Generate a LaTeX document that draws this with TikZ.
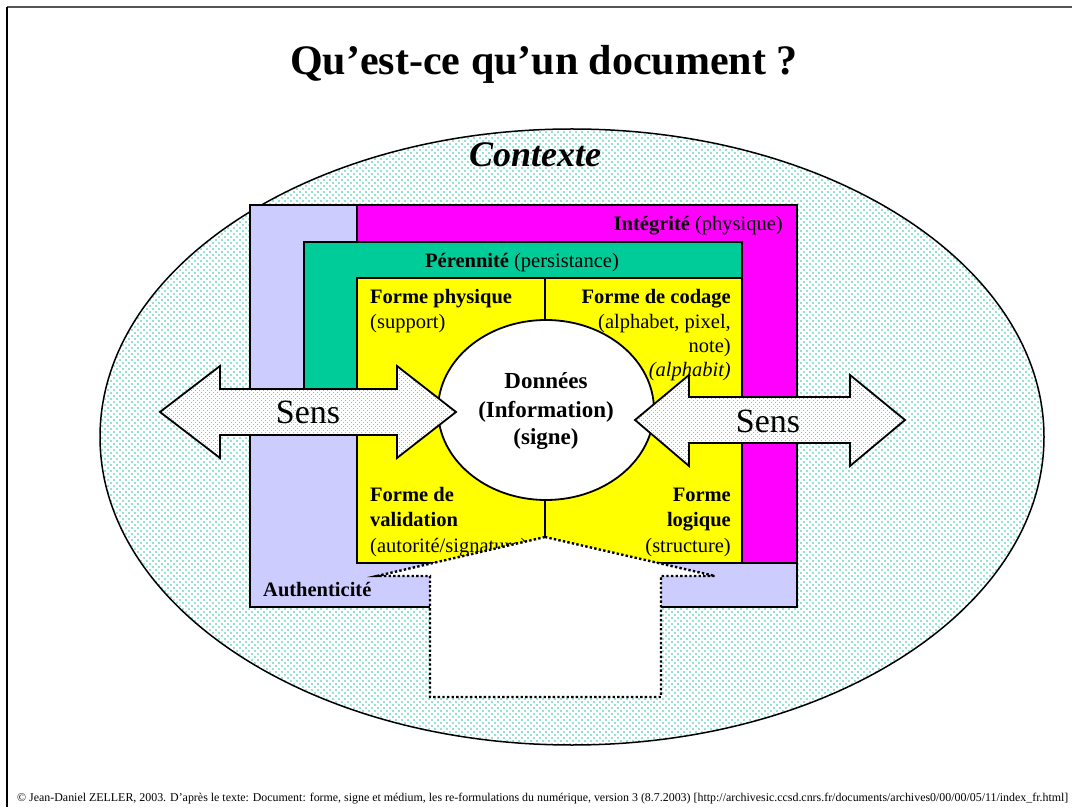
\documentclass[tikz,border=0pt]{standalone}
\usepackage{fontspec}
\setmainfont{Liberation Serif}
\usetikzlibrary{patterns.meta}
\definecolor{lav}{RGB}{204,204,255}
\definecolor{mag}{RGB}{255,0,255}
\definecolor{grn}{RGB}{0,204,153}
\definecolor{yel}{RGB}{255,255,0}
\definecolor{dotcol}{RGB}{40,200,165}
\definecolor{arrdot}{RGB}{20,205,170}
\definecolor{framegray}{RGB}{85,85,85}
\tikzset{
  panel/.style={draw=black, line width=1.8pt},
  lbl/.style={font=\fontsize{20.5}{24}\selectfont, inner sep=0pt},
  core/.style={font=\fontsize{23}{27}\selectfont\bfseries, inner sep=0pt},
  sensarrow/.style={draw=black, line width=1.8pt, preaction={fill=white},
     preaction={pattern={Dots[distance=4pt, radius=0.6pt]}, pattern color=arrdot},
     pattern={Dots[distance=4pt, xshift=2pt, yshift=2pt, radius=0.6pt]}, pattern color=arrdot},
  sens/.style={font=\fontsize{34}{40}\selectfont, inner sep=0pt},
  hollow/.style={draw=black, fill=white, line width=2.4pt, dash pattern=on 2.4pt off 2.2pt},
  ctxdots/.style={preaction={pattern={Dots[distance=6pt, radius=0.9pt]}, pattern color=dotcol},
     pattern={Dots[distance=6pt, xshift=3pt, yshift=3pt, radius=0.9pt]}, pattern color=dotcol},
}
\begin{document}
\begin{tikzpicture}[x=1pt, y=-1pt]
\useasboundingbox (0,0) rectangle (1072,810);
\fill[white] (0,0) rectangle (1072,810);
% frame
\draw[framegray, line width=1.3pt] (1072,7) -- (7,7);
\draw[black, line width=1.3pt] (7,7) -- (7,807);
% title
\node[font=\fontsize{42}{48}\selectfont\bfseries, inner sep=0pt, anchor=base] (title) at (544,75) {Qu’est-ce qu’un document ?};
% context ellipse
\path[ctxdots] (572,437) ellipse [x radius=472pt, y radius=308pt];
\draw[black, line width=1.5pt] (572,437) ellipse [x radius=472pt, y radius=308pt];
\node[font=\fontsize{36}{42}\selectfont\bfseries\itshape, inner sep=0pt, anchor=base] (ctx) at (535,167) {Contexte};
% nested panels
\path[panel, fill=lav] (250,205) rectangle (797,607);
\path[panel, fill=mag] (357,205) rectangle (797,563);
\path[panel, fill=grn] (304,242) rectangle (742,410);
\path[panel, fill=yel] (357,278) rectangle (742,563);
\draw[black, line width=1.8pt] (545,278) -- (545,322);
\draw[black, line width=1.8pt] (545,498) -- (545,537);
% central ellipse
\draw[black, line width=1.8pt, fill=white] (546,410) ellipse [x radius=108pt, y radius=90pt];
\node[core, anchor=base] (d1) at (546,389) {Données};
\node[core, anchor=base] (d2) at (546,418) {(Information)};
\node[core, anchor=base] (d3) at (546,445) {(signe)};
% panel labels
\node[lbl, anchor=base east] (integ) at (783,231) {\textbf{Intégrité} (physique)};
\node[lbl, anchor=base] (peren) at (522,268) {\textbf{Pérennité} (persistance)};
\node[lbl, anchor=base west] (authen) at (263,596) {\textbf{Authenticité}};
\node[lbl, anchor=base west] (fp1) at (370,304) {\textbf{Forme physique}};
\node[lbl, anchor=base west] (fp2) at (370,329) {(support)};
\node[lbl, anchor=base east] (fc1) at (731,304) {\textbf{Forme de codage}};
\node[lbl, anchor=base east] (fc2) at (731,329) {(alphabet, pixel,};
\node[lbl, anchor=base east] (fc3) at (731,353) {note)};
\node[lbl, anchor=base east] (fc4) at (731,377) {\itshape(alphabit)};
\node[lbl, anchor=base west] (fv1) at (370,501) {\textbf{Forme de}};
\node[lbl, anchor=base west] (fv2) at (370,526) {\textbf{validation}};
\node[lbl, anchor=base west] (fv3) at (370,552) {(autorité/signature)};
\node[lbl, anchor=base east] (fl1) at (731,501) {\textbf{Forme}};
\node[lbl, anchor=base east] (fl2) at (731,526) {\textbf{logique}};
\node[lbl, anchor=base east] (fl3) at (731,552) {(structure)};
% Sens arrows
\path[sensarrow] (160,412) -- (220,366) -- (220,389) -- (397,389) -- (397,366) -- (456,412)
  -- (397,458) -- (397,435) -- (220,435) -- (220,458) -- cycle;
\node[sens, anchor=base] (sensL) at (308,424) {Sens};
\path[sensarrow] (635,420) -- (689,375) -- (689,397) -- (850,397) -- (850,375) -- (905,420)
  -- (850,466) -- (850,443) -- (689,443) -- (689,466) -- cycle;
\node[sens, anchor=base] (sensR) at (768,433) {Sens};
% hollow up arrow
\path[hollow] (545,537) -- (377,576) -- (430,576) -- (430,697) -- (661,697) -- (661,576) -- (715,576) -- cycle;
% footer
\node[inner sep=0pt, anchor=base west] (foot) at (17,801) {\resizebox{1051pt}{!}{\fontsize{11.5}{13}\selectfont © Jean-Daniel ZELLER, 2003. D’après le texte: Document: forme, signe et médium, les re-formulations du numérique, version 3 (8.7.2003) [http://archivesic.ccsd.cnrs.fr/documents/archives0/00/00/05/11/index\_fr.html]}};
\end{tikzpicture}
\end{document}
